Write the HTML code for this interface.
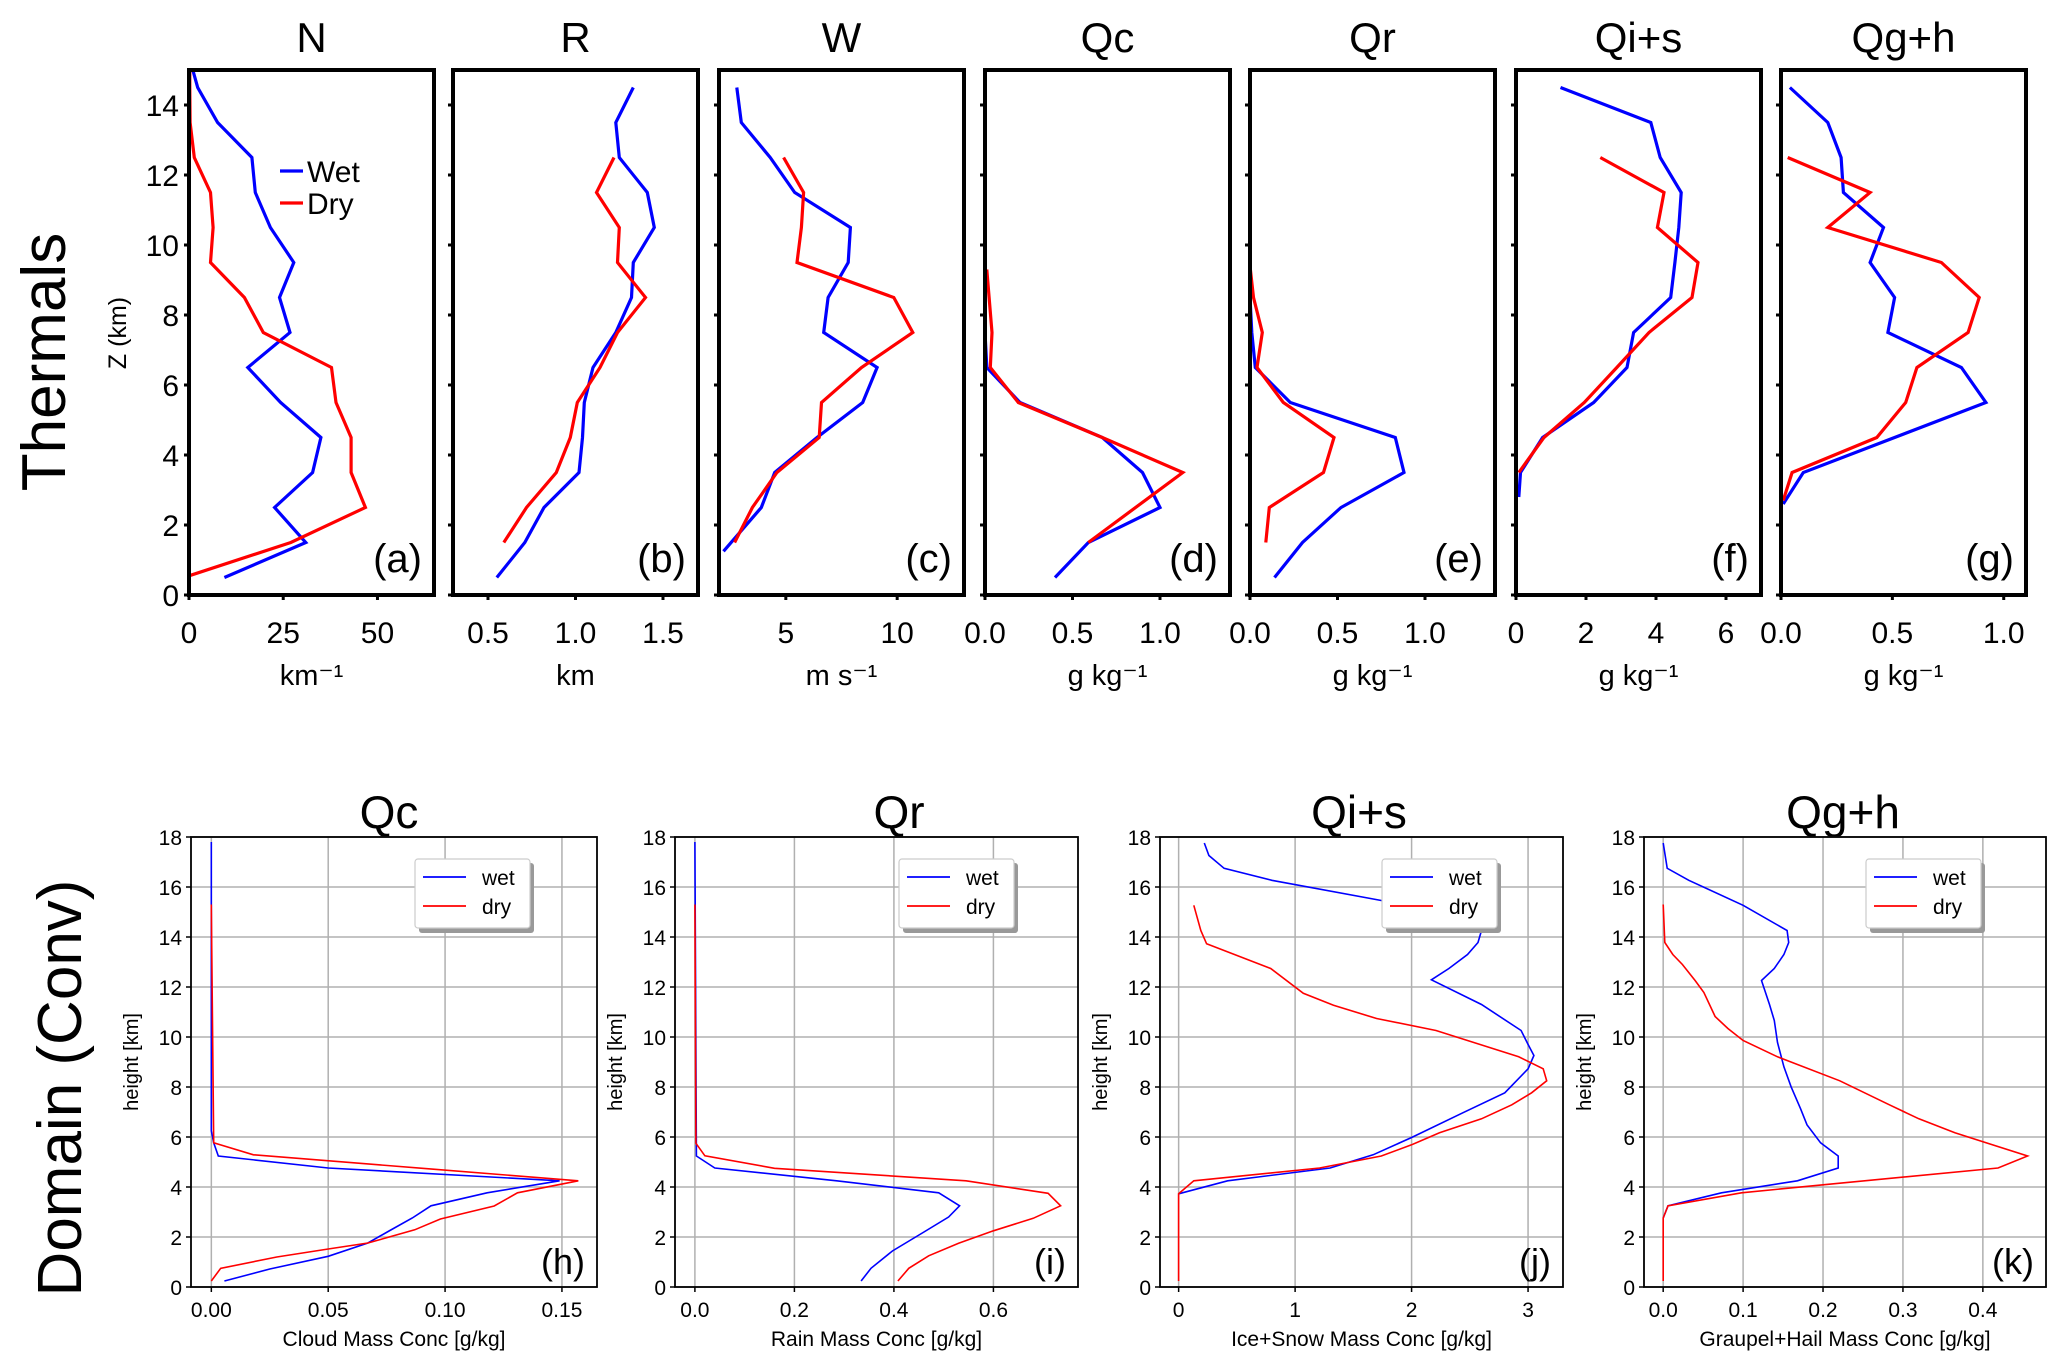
<!DOCTYPE html>
<html><head><meta charset="utf-8"><style>
body{margin:0;background:#fff}
svg{display:block;font-family:"Liberation Sans",sans-serif}
</style></head><body>
<svg id="fig" width="2067" height="1368" viewBox="0 0 2067 1368" xmlns="http://www.w3.org/2000/svg">
<text x="0" y="0" transform="translate(65,362) rotate(-90)" text-anchor="middle" font-size="62">Thermals</text>
<text x="0" y="0" transform="translate(126,333) rotate(-90)" text-anchor="middle" font-size="25">Z (km)</text>
<text x="0" y="0" transform="translate(81,1088) rotate(-90)" text-anchor="middle" font-size="62">Domain (Conv)</text>
</svg>
<script>
// ---- Top row data (Thermals) ----
const topTitles = ["N","R","W","Qc","Qr","Qi+s","Qg+h"];
const topLabels = ["(a)","(b)","(c)","(d)","(e)","(f)","(g)"];
const topUnits = ["km\u207B\u00B9","km","m s\u207B\u00B9","g kg\u207B\u00B9","g kg\u207B\u00B9","g kg\u207B\u00B9","g kg\u207B\u00B9"];
const topXmin = [0,0.3,2,0,0,0,0];
const topXmax = [65,1.7,13,1.4,1.4,7,1.1];
const topXticks = [[0,25,50],[0.5,1.0,1.5],[5,10],[0.0,0.5,1.0],[0.0,0.5,1.0],[0,2,4,6],[0.0,0.5,1.0]];
const topXtickText = [["0","25","50"],["0.5","1.0","1.5"],["5","10"],["0.0","0.5","1.0"],["0.0","0.5","1.0"],["0","2","4","6"],["0.0","0.5","1.0"]];
const topYticks = [0,2,4,6,8,10,12,14];

const aWetZ = [0.5,1.5,2.5,3.5,4.5,5.5,6.5,7.5,8.5,9.5,10.5,11.5,12.5,13.5,14.5,15];
const aWetX = [9.4,31,22.7,32.8,35,24.3,15.6,26.8,24,27.8,21.6,17.6,16.7,7.6,2.3,1];
const aDryZ = [0.55,1.5,2.5,3.5,4.5,5.5,6.5,7.5,8.5,9.5,10.5,11.5,12.5,13.5,14.5,15];
const aDryX = [0,27,46.8,43,43,39,37.8,19.7,14.7,5.7,6.4,5.7,1.4,0.3,0.2,0.2];
const bWetZ = [0.5,1.5,2.5,3.5,4.5,5.5,6.5,7.5,8.5,9.5,10.5,11.5,12.5,13.5,14.5];
const bWetX = [0.55,0.71,0.82,1.02,1.04,1.05,1.1,1.23,1.32,1.33,1.45,1.41,1.25,1.23,1.33];
const bDryZ = [1.5,2.5,3.5,4.5,5.5,6.5,7.5,8.5,9.5,10.5,11.5,12.5];
const bDryX = [0.59,0.72,0.89,0.97,1.01,1.14,1.24,1.40,1.24,1.25,1.12,1.22];
const cWetZ = [1.25,2.5,3.5,4.5,5.5,6.5,7.5,8.5,9.5,10.5,11.5,12.5,13.5,14.5];
const cWetX = [2.2,3.9,4.5,6.4,8.45,9.1,6.7,6.9,7.8,7.9,5.4,4.3,3.0,2.8];
const cDryZ = [1.5,2.5,3.5,4.5,5.5,6.5,7.5,8.5,9.5,10.5,11.5,12.5];
const cDryX = [2.7,3.5,4.6,6.5,6.6,8.4,10.7,9.85,5.5,5.7,5.8,4.9];
const dWetZ = [0.5,1.5,2.5,3.5,4.5,5.5,6.5,7.5,8.5,9.3];
const dWetX = [0.40,0.59,1.0,0.90,0.67,0.20,0.01,0.0,0.0,0.0];
const dDryZ = [1.5,3.5,4.5,5.5,6.5,7.5,9.3];
const dDryX = [0.59,1.13,0.67,0.19,0.03,0.04,0.01];
const eWetZ = [0.5,1.5,2.5,3.5,4.5,5.5,6.5,7.5,8.5];
const eWetX = [0.14,0.30,0.52,0.88,0.83,0.23,0.03,0.01,0.0];
const eDryZ = [1.5,2.5,3.5,4.5,5.5,6.5,7.5,8.5,9.4];
const eDryX = [0.09,0.11,0.42,0.48,0.19,0.04,0.07,0.02,0.0];
const fWetZ = [2.8,3.5,4.5,5.5,6.5,7.5,8.5,9.5,10.5,11.5,12.5,13.5,14.5];
const fWetX = [0.08,0.13,0.76,2.22,3.17,3.36,4.42,4.54,4.65,4.72,4.12,3.85,1.27];
const fDryZ = [3.5,4.5,5.5,6.5,7.5,8.5,9.5,10.5,11.5,12.5];
const fDryX = [0.08,0.8,1.95,2.88,3.8,5.03,5.2,4.04,4.23,2.41];
const gWetZ = [2.6,3.5,5.5,6.5,7.5,8.5,9.5,10.5,11.5,12.5,13.5,14.5];
const gWetX = [0.01,0.10,0.92,0.81,0.48,0.51,0.40,0.46,0.28,0.27,0.21,0.04];
const gDryZ = [2.7,3.5,4.5,5.5,6.5,7.5,8.5,9.5,10.5,11.5,12.5];
const gDryX = [0.01,0.05,0.43,0.56,0.61,0.84,0.89,0.72,0.21,0.40,0.03];

// ---- Bottom row data (Domain) ----
const botTitles = ["Qc","Qr","Qi+s","Qg+h"];
const botLabels = ["(h)","(i)","(j)","(k)"];
const botXlabels = ["Cloud Mass Conc [g/kg]","Rain Mass Conc [g/kg]","Ice+Snow Mass Conc [g/kg]","Graupel+Hail Mass Conc [g/kg]"];
const botXmin = [-0.0087,-0.04,-0.16,-0.024];
const botXmax = [0.165,0.77,3.3,0.479];
const botXticks = [[0,0.05,0.10,0.15],[0,0.2,0.4,0.6],[0,1,2,3],[0,0.1,0.2,0.3,0.4]];
const botXtickText = [["0.00","0.05","0.10","0.15"],["0.0","0.2","0.4","0.6"],["0","1","2","3"],["0.0","0.1","0.2","0.3","0.4"]];
const botYticks = [0,2,4,6,8,10,12,14,16,18];

const hWetZ = [0.24,0.72,1.23,1.76,2.24,2.76,3.25,3.77,4.25,4.76,5.24,5.77,6.25,17.8];
const hWetX = [0.0056,0.025,0.05,0.067,0.076,0.086,0.094,0.118,0.149,0.05,0.003,0.001,0,0];
const hDryZ = [0.24,0.75,1.2,1.52,1.76,2.29,2.72,3.24,3.77,4.25,4.73,5.29,5.77,15.3];
const hDryX = [0,0.004,0.028,0.05,0.067,0.087,0.098,0.121,0.131,0.157,0.093,0.018,0.001,0];
const iWetZ = [0.24,0.75,1.44,2.16,2.8,3.25,3.77,4.25,4.76,5.24,17.8];
const iWetX = [0.334,0.354,0.397,0.457,0.51,0.532,0.49,0.285,0.04,0.003,0];
const iDryZ = [0.24,0.75,1.25,1.75,2.25,2.75,3.25,3.75,4.25,4.75,5.25,5.75,15.3];
const iDryX = [0.408,0.43,0.47,0.53,0.6,0.68,0.735,0.71,0.545,0.16,0.02,0.002,0];
const jWetZ = [3.73,4.25,4.76,5.29,5.98,6.97,7.77,8.73,9.26,9.7,10.26,11.3,12.29,12.74,13.3,13.78,14.26,15.46,16.27,16.75,17.26,17.76];
const jWetX = [0,0.42,1.3,1.67,2.0,2.44,2.8,3.0,3.05,3.0,2.94,2.6,2.17,2.32,2.48,2.57,2.6,1.74,0.8,0.39,0.26,0.22];
const jDryZ = [0.24,3.73,4.25,4.76,5.24,5.69,6.17,6.73,7.29,7.77,8.25,8.73,9.21,10.26,10.74,11.27,11.75,12.74,13.73,14.26,15.27];
const jDryX = [0,0,0.13,1.21,1.74,2.0,2.24,2.6,2.86,3.03,3.16,3.13,2.92,2.21,1.7,1.33,1.07,0.79,0.24,0.19,0.13];
const kWetZ = [2.76,3.25,3.77,4.25,4.76,5.24,5.77,6.49,7.13,8.01,8.81,9.78,10.66,11.3,12.26,12.74,13.3,13.78,14.26,15.27,16.27,16.75,17.76];
const kWetX = [0,0.006,0.073,0.168,0.219,0.219,0.197,0.18,0.172,0.16,0.151,0.143,0.139,0.133,0.123,0.139,0.151,0.157,0.155,0.1,0.032,0.005,0];
const kDryZ = [0.24,2.76,3.25,3.77,4.09,4.76,5.24,6.17,6.73,7.29,8.25,9.21,9.86,10.34,10.82,11.78,12.26,12.9,13.3,13.78,15.3];
const kDryX = [0,0,0.006,0.098,0.2,0.419,0.456,0.365,0.32,0.283,0.221,0.143,0.1,0.081,0.065,0.051,0.04,0.024,0.012,0.002,0];

const NS = "http://www.w3.org/2000/svg";
const svg = document.getElementById("fig");
function mk(tag, attrs, parent){const e=document.createElementNS(NS,tag);for(const k in attrs)e.setAttribute(k,attrs[k]);(parent||svg).appendChild(e);return e;}

// ---- Top panels ----
const topL=[189,453,719,985,1250,1516,1781], topW=245, topT=70, topB=595, topZmax=15;
const topWet=[[aWetX,aWetZ],[bWetX,bWetZ],[cWetX,cWetZ],[dWetX,dWetZ],[eWetX,eWetZ],[fWetX,fWetZ],[gWetX,gWetZ]];
const topDry=[[aDryX,aDryZ],[bDryX,bDryZ],[cDryX,cDryZ],[dDryX,dDryZ],[eDryX,eDryZ],[fDryX,fDryZ],[gDryX,gDryZ]];
for(let p=0;p<7;p++){
  const L=topL[p], R=L+topW;
  const g=mk("g",{});
  
  
  const xs=v=>L+(v-topXmin[p])/(topXmax[p]-topXmin[p])*topW;
  const ys=z=>topB-z/topZmax*(topB-topT);
  const t=mk("text",{x:(L+R)/2,y:52,"text-anchor":"middle","font-size":42},g); t.textContent=topTitles[p];
   
  ["wet","dry"].forEach((s,si)=>{
    const d=(si?topDry:topWet)[p];
    const pts=d[0].map((v,i)=>xs(v).toFixed(1)+","+ys(d[1][i]).toFixed(1)).join(" ");
    const pl=mk("polyline",{points:pts,fill:"none",stroke:si?"#ff0000":"#0000ff","stroke-width":3.2,"stroke-linejoin":"miter"},g);
     
  });
  const fr=mk("rect",{x:L,y:topT,width:topW,height:topB-topT,fill:"none",stroke:"#000","stroke-width":4},g);
   
  topYticks.forEach(z=>{
    mk("line",{x1:L-5,x2:L,y1:ys(z),y2:ys(z),stroke:"#000","stroke-width":3},g);
    if(p===0){const tl=mk("text",{x:L-10,y:ys(z)+11,"text-anchor":"end","font-size":30},g);tl.textContent=z;
       }
  });
  topXticks[p].forEach((v,i)=>{
    mk("line",{x1:xs(v),x2:xs(v),y1:topB,y2:topB+5,stroke:"#000","stroke-width":3},g);
    const tl=mk("text",{x:xs(v),y:643,"text-anchor":"middle","font-size":30},g); tl.textContent=topXtickText[p][i];
     
  });
  const u=mk("text",{x:(L+R)/2,y:685,"text-anchor":"middle","font-size":29},g); u.textContent=topUnits[p];
   
  const pl=mk("text",{x:R-12,y:572,"text-anchor":"end","font-size":40},g); pl.textContent=topLabels[p];
   
}
// top legend
const lg=mk("g",{});
 
mk("line",{x1:280,x2:303,y1:171,y2:171,stroke:"#0000ff","stroke-width":3.2},lg);
mk("line",{x1:280,x2:303,y1:203,y2:203,stroke:"#ff0000","stroke-width":3.2},lg);
let lt=mk("text",{x:307,y:182,"font-size":30},lg); lt.textContent="Wet";
lt=mk("text",{x:307,y:214,"font-size":30},lg); lt.textContent="Dry";

// ---- Bottom panels ----
const botL=[191,675,1160,1644], botR=[597,1078,1563,2046], botT=837, botB=1287, botZmax=18;
const botTitleX=[389,899,1359,1843];
const botWet=[[hWetX,hWetZ],[iWetX,iWetZ],[jWetX,jWetZ],[kWetX,kWetZ]];
const botDry=[[hDryX,hDryZ],[iDryX,iDryZ],[jDryX,jDryZ],[kDryX,kDryZ]];
for(let p=0;p<4;p++){
  const L=botL[p], R=botR[p], W=R-L;
  const g=mk("g",{});
  
  
  const xs=v=>L+(v-botXmin[p])/(botXmax[p]-botXmin[p])*W;
  const ys=z=>botB-z/botZmax*(botB-botT);
  const t=mk("text",{x:botTitleX[p],y:828,"text-anchor":"middle","font-size":46},g); t.textContent=botTitles[p];
   
  botYticks.forEach(z=>{
    mk("line",{x1:L,x2:R,y1:ys(z),y2:ys(z),stroke:"#b0b0b0","stroke-width":1.5},g);
    mk("line",{x1:L-5,x2:L,y1:ys(z),y2:ys(z),stroke:"#000","stroke-width":1.5},g);
    const tl=mk("text",{x:L-9,y:ys(z)+8,"text-anchor":"end","font-size":21},g); tl.textContent=z;
     
  });
  botXticks[p].forEach((v,i)=>{
    mk("line",{x1:xs(v),x2:xs(v),y1:botT,y2:botB,stroke:"#b0b0b0","stroke-width":1.5},g);
    mk("line",{x1:xs(v),x2:xs(v),y1:botB,y2:botB+5,stroke:"#000","stroke-width":1.5},g);
    const tl=mk("text",{x:xs(v),y:1317,"text-anchor":"middle","font-size":21},g); tl.textContent=botXtickText[p][i];
     
  });
  ["wet","dry"].forEach((s,si)=>{
    const d=(si?botDry:botWet)[p];
    const pts=d[0].map((v,i)=>xs(v).toFixed(1)+","+ys(d[1][i]).toFixed(1)).join(" ");
    const pl=mk("polyline",{points:pts,fill:"none",stroke:si?"#ff0000":"#0000ff","stroke-width":1.6},g);
     
  });
  const fr=mk("rect",{x:L,y:botT,width:W,height:botB-botT,fill:"none",stroke:"#000","stroke-width":1.8},g);
   
  const xl=mk("text",{x:(L+R)/2,y:1346,"text-anchor":"middle","font-size":21},g); xl.textContent=botXlabels[p];
   
  const yl=mk("text",{x:0,y:0,transform:`translate(${L-53},${(botT+botB)/2}) rotate(-90)`,"text-anchor":"middle","font-size":20},g); yl.textContent="height [km]";
   
  const lx=[415,899,1382,1866][p];
  const leg=mk("g",{},g);
   
  mk("rect",{x:lx+4,y:863,width:115,height:70,fill:"#999",rx:3},leg);
  mk("rect",{x:lx,y:859,width:115,height:69,fill:"#fff",stroke:"#ccc","stroke-width":1.2,rx:3},leg);
  mk("line",{x1:lx+8,x2:lx+51,y1:877,y2:877,stroke:"#0000ff","stroke-width":1.8},leg);
  mk("line",{x1:lx+8,x2:lx+51,y1:906,y2:906,stroke:"#ff0000","stroke-width":1.8},leg);
  let tt=mk("text",{x:lx+67,y:885,"font-size":21},leg); tt.textContent="wet";
  tt=mk("text",{x:lx+67,y:914,"font-size":21},leg); tt.textContent="dry";
  const pl=mk("text",{x:R-12,y:1274,"text-anchor":"end","font-size":36},g); pl.textContent=botLabels[p];
   
}
</script>
</body></html>
